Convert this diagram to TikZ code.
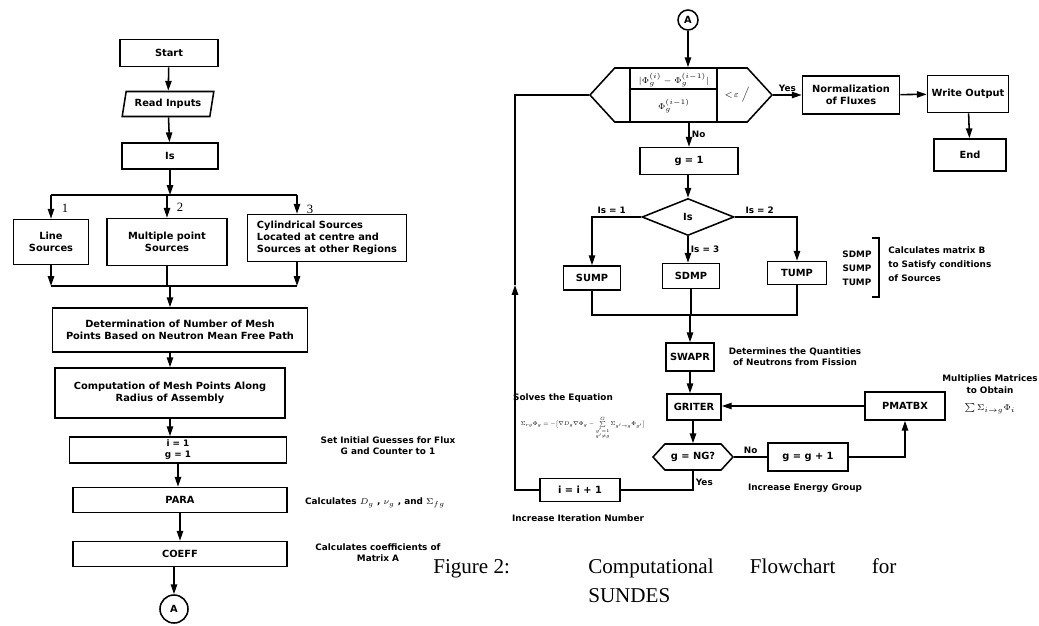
\documentclass[tikz,border=0pt]{standalone}
\usepackage{amsmath}
\usepackage{amssymb}
\usepackage{graphicx}
\usepackage{fontspec}
\setmainfont{Liberation Serif}
\newfontfamily\flowfont{DejaVu Sans}
\usetikzlibrary{shapes.geometric,shapes.symbols,arrows.meta,positioning,calc}
\newcommand{\boxtxt}{\flowfont\bfseries\fontsize{7}{8.6}\selectfont}
\newcommand{\notetxt}{\flowfont\bfseries\fontsize{6.3}{7.8}\selectfont}
\tikzset{
  proc/.style={rectangle,draw,line width=1.1pt,fill=white,align=center,
    font=\boxtxt,inner sep=1pt},
  io/.style={trapezium,trapezium left angle=75,trapezium right angle=105,
    trapezium stretches=true,draw,line width=1.1pt,align=center,font=\boxtxt,inner sep=1pt},
  dec/.style={diamond,draw,line width=1.1pt,align=center,font=\boxtxt,inner sep=0pt},
  hexa/.style={signal,signal to=west and east,signal pointer angle=95,draw,
    line width=1.1pt,align=center,font=\boxtxt,inner sep=0pt},
  conn/.style={circle,draw,line width=1.1pt,inner sep=0pt,font=\boxtxt},
  arr/.style={-{Triangle[length=7pt,width=4.5pt]},line width=1.1pt},
  lne/.style={line width=1.1pt},
  note/.style={align=center,font=\notetxt,inner sep=0pt},
  tag/.style={font=\notetxt,inner sep=1.5pt},
  numtag/.style={font=\fontsize{9}{10}\selectfont,inner sep=0pt},
  frm/.style={font=\fontsize{6}{7}\selectfont,inner sep=0pt},
  capt/.style={font=\fontsize{15}{21}\selectfont,inner sep=0pt}
}
\begin{document}
\begin{tikzpicture}[x=0.025cm,y=-0.025cm]
  \useasboundingbox (0,0) rectangle (1039,625);

  % Left column
  \node[proc,minimum width=2.45cm,minimum height=0.675cm] (start) at (169,53) {Start};
  \node[io,minimum width=2.3cm,minimum height=0.625cm] (inp) at (168,104) {Read Inputs};
  \node[proc,minimum width=2.4cm,minimum height=0.65cm] (is) at (170,156) {Is};

  \node[proc,minimum width=1.875cm,minimum height=1.125cm] (lsrc) at (51,242) {Line\\Sources};
  \node[proc,minimum width=3cm,minimum height=1.175cm] (msrc) at (167,242) {Multiple point\\Sources};
  \node[proc,minimum width=3.975cm,minimum height=1.175cm,align=left] (csrc) at (327,238)
    {Cylindrical Sources\\Located at centre and\\Sources at other Regions};
  \node[numtag] (n1) at (65,208) {1};
  \node[numtag] (n2) at (180,207) {2};
  \node[numtag] (n3) at (310,209) {3};

  \node[proc,minimum width=6.375cm,minimum height=1.1cm] (mesh) at (180,330)
    {Determination of Number of Mesh\\Points Based on Neutron Mean Free Path};
  \node[proc,minimum width=5.75cm,minimum height=1.25cm] (rad) at (170,393)
    {Computation of Mesh Points Along\\Radius of Assembly};
  \node[proc,minimum width=5.425cm,minimum height=0.65cm,font=\notetxt] (init) at (178,450) {i = 1\\g = 1};
  \node[proc,minimum width=5.35cm,minimum height=0.625cm] (para) at (180,500) {PARA};
  \node[proc,minimum width=5.35cm,minimum height=0.625cm] (coeff) at (180,554) {COEFF};
  \node[conn,minimum size=0.7cm] (conA) at (174,609) {A};

  \node[note] (initnote) at (388,446) {Set Initial Guesses for Flux\\G and Counter to 1};
  \node[note] (paranote) at (375,503) {Calculates $D_g$ , $\nu_g$ , and $\Sigma_{fg}$};
  \node[note] (coeffnote) at (378,553) {Calculates coefficients of\\Matrix A};

  % Left arrows
  \coordinate (split) at (170,195);
  \coordinate (c3) at (297,195);
  \coordinate (merge) at (170,286);
  \draw[arr] (start) -- (inp);
  \draw[arr] (inp) -- (is);
  \draw[arr] (is) -- (split);
  \draw[lne] (lsrc.north |- split) -- (c3);
  \draw[arr] (lsrc.north |- split) -- (lsrc.north);
  \draw[arr] (msrc.north |- split) -- (msrc.north);
  \draw[arr] (c3) -- (c3 |- csrc.north);
  \draw[arr] (lsrc.south) -- (lsrc.south |- merge);
  \draw[lne] (msrc.south) -- (msrc.south |- merge);
  \draw[arr] (c3 |- csrc.south) -- (c3 |- merge);
  \draw[lne] (lsrc.south |- merge) -- (c3 |- merge);
  \draw[arr] (merge) -- (merge |- mesh.north);
  \draw[arr] (rad.north |- mesh.south) -- (rad.north);
  \draw[arr] (rad.south) -- (rad.south |- init.north);
  \draw[arr] (init.south) -- (init.south |- para.north);
  \draw[arr] (para) -- (coeff);
  \draw[arr] (conA |- coeff.south) -- (conA);

  % Right column
  \node[conn,minimum size=0.5cm] (conB) at (688,20) {A};
  \node[hexa,minimum width=4.55cm,minimum height=1.35cm] (conv) at (681,95) {};
  \draw[lne] ([xshift=-1.275cm]conv.north) -- ([xshift=-1.275cm]conv.south)
    ([xshift=0.9cm]conv.north) -- ([xshift=0.9cm]conv.south)
    ([xshift=-1.275cm,yshift=-0.55cm]conv.north) -- ([xshift=0.9cm,yshift=-0.55cm]conv.north);
  \node[frm] (numer) at (674,80) {$|\Phi_g^{(i)}-\Phi_g^{(i-1)}|$};
  \node[frm] (denom) at (674,106) {$\Phi_g^{(i-1)}$};
  \node[frm] (eps) at (737,95) {$<\!\varepsilon\;\Big/$};

  \node[proc,minimum width=2.425cm,minimum height=0.95cm] (norm) at (851,95) {Normalization\\of Fluxes};
  \node[proc,minimum width=2.025cm,minimum height=0.925cm] (wout) at (968,94) {Write Output};
  \node[proc,minimum width=1.8cm,minimum height=0.8cm] (endb) at (970,155) {End};

  \node[proc,minimum width=2.45cm,minimum height=0.675cm] (gone) at (689,161) {g = 1};
  \node[dec,minimum width=2.3cm,minimum height=0.925cm] (isd) at (688,217) {Is};
  \node[proc,minimum width=1.425cm,minimum height=0.6cm] (sump) at (592,278) {SUMP};
  \node[proc,minimum width=1.425cm,minimum height=0.625cm] (sdmp) at (691,276) {SDMP};
  \node[proc,minimum width=1.475cm,minimum height=0.575cm] (tump) at (797,273) {TUMP};

  \node[note] (sublist) at (857,268) {SDMP\\[2pt]SUMP\\[2pt]TUMP};
  \draw[line width=0.8pt] (872,238) -- (879,238) -- (879,297) -- (872,297);
  \node[note,align=left,anchor=west] (matnote) at (888,264)
    {Calculates matrix B\\[2pt]to Satisfy conditions\\[2pt]of Sources};

  \node[proc,minimum width=1.2cm,minimum height=0.7cm] (swapr) at (690,357) {SWAPR};
  \node[note] (swapnote) at (795,357) {Determines the Quantities\\of Neutrons from Fission};
  \node[proc,minimum width=1.35cm,minimum height=0.65cm] (griter) at (694,407) {GRITER};
  \node[proc,minimum width=2cm,minimum height=0.7cm] (pmat) at (905,406) {PMATBX};
  \node[note] (multnote) at (990,394) {Multiplies Matrices\\[1pt]to Obtain\\[4pt]$\sum\Sigma_{i\to g}\Phi_i$};

  \node[note] (solvenote) at (563,398) {Solves the Equation};
  \node[frm] (eqn) at (583,428)
    {\resizebox{3.1cm}{!}{$\Sigma_{rg}\Phi_g=-\bigl[\nabla D_g\nabla\Phi_g-\sum\limits_{\substack{g'=1\\ g'\neq g}}^{G}\Sigma_{g'\to g}\Phi_{g'}\bigr]$}};

  \node[hexa,minimum width=2cm,minimum height=0.65cm] (ngq) at (693,457) {g = NG?};
  \node[proc,minimum width=2cm,minimum height=0.7cm] (gdec) at (808,457) {g = g + 1};
  \node[note] (enote) at (805,488) {Increase Energy Group};
  \node[proc,minimum width=2cm,minimum height=0.575cm] (iinc) at (580,490) {i = i + 1};
  \node[note] (inote) at (578,518) {Increase Iteration Number};

  % Right arrows
  \coordinate (loopbot) at (515,490);
  \coordinate (loopmid) at (515,285);
  \coordinate (looptop) at (515,95);
  \draw[arr] (conB) -- (conB |- conv.north);
  \draw[arr] (conv.east) -- node[tag,above] {Yes} (norm.west);
  \draw[arr] (norm) -- (wout);
  \draw[arr] (wout) -- (endb);
  \draw[arr] (gone.north |- conv.south) -- node[tag,right] {No} (gone.north);
  \draw[arr] (isd.north |- gone.south) -- (isd.north);
  \draw[arr] (isd.west) -| node[tag,above,pos=0.3] {Is = 1} (sump.north);
  \draw[arr] (isd.south) -- node[tag,right] {Is = 3} (isd.south |- sdmp.north);
  \draw[arr] (isd.east) -| node[tag,above,pos=0.2] {Is = 2} (tump.north);
  \coordinate (join) at (690,315);
  \draw[lne] (sump.south) |- (join) -| (tump.south);
  \draw[lne] (sdmp.south) -- (sdmp.south |- join);
  \draw[arr] (join) -- (join |- swapr.north);
  \draw[arr] (swapr.south) -- (swapr.south |- griter.north);
  \draw[arr] (pmat.west) -- (pmat.west -| griter.east);
  \draw[arr] (griter.south -| ngq.north) -- (ngq.north);
  \draw[lne] (ngq.east) -- node[tag,above] {No} (gdec.west);
  \draw[arr] (gdec.east) -| (pmat.south);
  \draw[lne] (ngq.south) |- node[tag,right,pos=0.3] {Yes} (iinc.east);
  \draw[arr] (iinc.west) -- (loopbot) -- (loopmid);
  \draw[lne] (loopmid) -- (looptop) -- (conv.west);

  % Caption
  \node[capt,anchor=west] (figno) at (433,569) {Figure 2:};
  \node[capt,anchor=north west,align=left] (caption) at (588,558)
    {\makebox[7.7cm][s]{Computational\hfill Flowchart\hfill for}\\SUNDES};
\end{tikzpicture}
\end{document}
